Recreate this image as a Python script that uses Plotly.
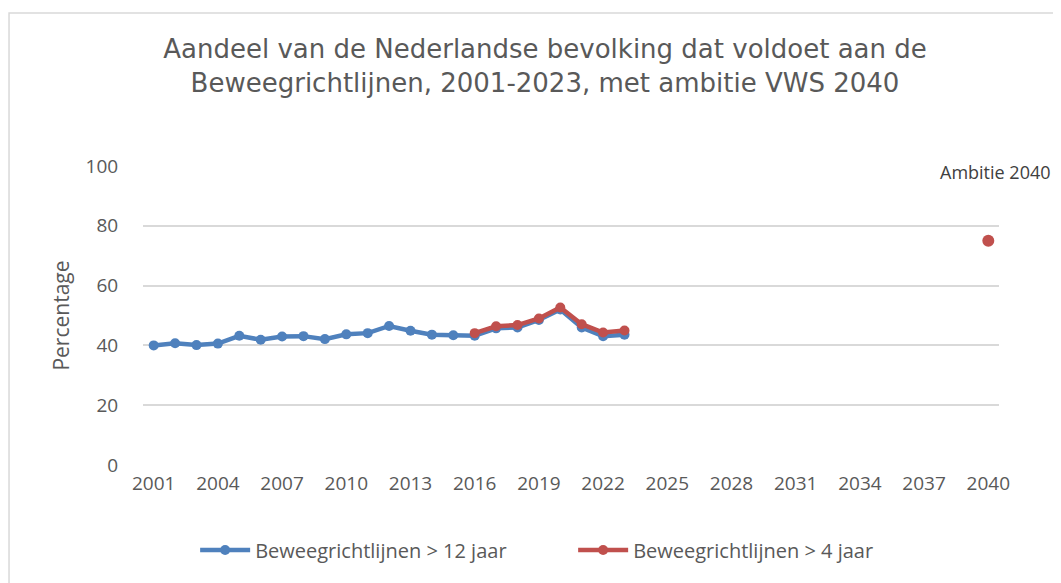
import plotly.graph_objects as go

# Beweegrichtlijnen, percentage van de bevolking
jaren_12 = list(range(2001, 2024))
pct_12 = [40.0, 40.7, 40.1, 40.6, 43.2, 41.9, 43.0, 43.1, 42.1, 43.7, 44.1,
          46.5, 44.9, 43.6, 43.4, 43.2, 45.7, 46.0, 48.5, 52.0, 46.0, 43.1, 43.6]

jaren_4 = list(range(2016, 2024))
pct_4 = [44.1, 46.4, 46.8, 49.0, 52.7, 47.1, 44.3, 45.0]

ambitie_jaar = [2040]
ambitie_pct = [75]

x_ticks = list(range(2001, 2041, 3))
y_ticks = [0, 20, 40, 60, 80, 100]

BLAUW = '#4f81bd'
ROOD = '#c0504d'
GRIJS = '#595959'
FONT = 'Open Sans'
ONZICHTBAAR = 'rgba(0,0,0,0)'

fig = go.Figure()
fig.add_trace(go.Scatter(
    x=jaren_12, y=pct_12, mode='lines+markers', name='Beweegrichtlijnen > 12 jaar',
    line=dict(color=BLAUW, width=4.5), marker=dict(size=10, color=BLAUW)))
fig.add_trace(go.Scatter(
    x=jaren_4, y=pct_4, mode='lines+markers', name='Beweegrichtlijnen > 4 jaar',
    line=dict(color=ROOD, width=4.5), marker=dict(size=10, color=ROOD)))
fig.add_trace(go.Scatter(
    x=ambitie_jaar, y=ambitie_pct, mode='markers', showlegend=False,
    marker=dict(size=12, color=ROOD)))

fig.add_annotation(x=2040, y=97.9, xref='x', yref='y', text='Ambitie 2040',
                   showarrow=False, xshift=7,
                   font=dict(family=FONT, size=18, color='#404040'))

# rand van de grafiek
fig.add_shape(type='rect', xref='paper', yref='paper',
              x0=-0.1565, x1=1.2, y0=-0.5, y1=1.5117,
              line=dict(color='#d9d9d9', width=1.5), layer='below')

fig.update_layout(
    width=1053, height=575,
    template='plotly_white',
    plot_bgcolor='white', paper_bgcolor='white',
    margin=dict(l=135, r=62, t=158, b=118),
    title=dict(text='Aandeel van de Nederlandse bevolking dat voldoet aan de<br>'
                    'Beweegrichtlijnen, 2001-2023, met ambitie VWS 2040',
               x=(537 / 1053), xanchor='center', y=0.913, yanchor='middle',
               font=dict(family='DejaVu Sans', size=26, color=GRIJS)),
    xaxis=dict(range=[2000.5, 2040.5], tickvals=x_ticks, showgrid=False,
               showline=False, zeroline=False, ticks='outside', ticklen=1,
               tickcolor=ONZICHTBAAR,
               tickfont=dict(family=FONT, size=19, color=GRIJS)),
    yaxis=dict(range=[0, 100], tickvals=y_ticks, showgrid=True,
               gridcolor='#d9d9d9', gridwidth=1.5, zeroline=False,
               ticks='outside', ticklen=20, tickcolor=ONZICHTBAAR,
               title=dict(text='Percentage', standoff=10,
                          font=dict(family=FONT, size=21, color=GRIJS)),
               tickfont=dict(family=FONT, size=19, color=GRIJS)),
    legend=dict(orientation='h', x=0.5025, xanchor='center', y=-0.284, yanchor='middle',
                itemwidth=50, entrywidth=313,
                font=dict(family=FONT, size=20, color=GRIJS)),
    showlegend=True,
)

fig.write_html("out.html")
